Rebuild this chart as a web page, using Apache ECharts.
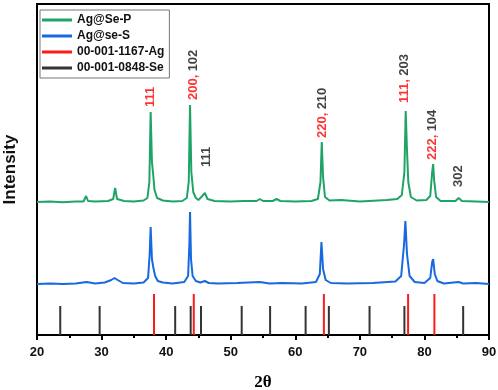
<!DOCTYPE html>
<html>
<head>
<meta charset="utf-8">
<script src="https://cdn.jsdelivr.net/npm/echarts@6/dist/echarts.min.js"></script>
<style>
  html, body { margin: 0; padding: 0; background: #fff; }
  #chart { width: 498px; height: 390px; }
</style>
</head>
<body>
<div id="chart"></div>
<script>
// Ag@Se-P trace, [2theta, intensity above its own baseline]
var greenPoints = [
  [20, 0], [22, 0.5], [24, -0.3], [26, 0.5], [27.2, 0.5], [27.6, 6], [27.9, 1], [29, 0.5],
  [31, 1], [31.8, 3], [32.1, 14], [32.4, 3], [33.5, 1], [35, 0.5], [36.5, 1.5], [37.1, 4],
  [37.4, 20], [37.6, 90], [37.8, 40], [38.0, 27], [38.2, 12], [38.6, 4], [39.5, 1.5], [41, 0.5],
  [42.5, 1], [43.2, 4], [43.5, 20], [43.7, 97], [43.9, 30], [44.2, 10], [44.6, 4], [45.0, 2],
  [45.6, 6], [46.0, 9], [46.4, 3], [47.5, 1], [50, 0.5], [52, 1], [54, 1], [54.5, 3], [55, 1],
  [56.5, 1], [57.1, 3], [57.7, 1], [60, 0.5], [62.5, 1], [63.5, 3], [63.9, 20], [64.1, 60],
  [64.3, 25], [64.6, 5], [65.3, 1.5], [67.1, 2], [70, 0.5], [74.2, 2], [75.8, 3], [76.5, 7],
  [76.9, 30], [77.1, 91], [77.3, 52], [77.5, 20], [77.9, 5], [78.8, 1.5], [80.3, 2], [80.9, 6],
  [81.2, 30], [81.35, 38], [81.5, 22], [81.8, 5], [82.5, 1], [84.8, 1], [85.3, 4], [85.8, 1],
  [88, 0.5], [90, 0]
]
// Ag@se-S trace
var bluePoints = [
  [20, 0], [22, 0.5], [24, 0], [26, 0.5], [27.7, 2], [29, 0.5], [30.5, 1.5], [31.5, 4],
  [32.0, 6], [32.5, 4], [33.3, 1], [35, 0.5], [36.5, 1.5], [37.2, 6], [37.45, 30], [37.6, 57],
  [37.8, 25], [38.0, 17], [38.3, 8], [38.7, 3], [39.5, 1.5], [41, 0.5], [42.8, 2], [43.4, 8],
  [43.6, 40], [43.7, 72], [43.85, 25], [44.1, 8], [44.6, 3], [45.3, 1.5], [46.0, 3], [46.6, 1],
  [48, 0.5], [51, 1], [54.5, 2], [56, 0.5], [58, 1], [61, 0.5], [63.2, 2], [63.8, 10],
  [64.05, 42], [64.3, 15], [64.7, 4], [65.5, 1], [68, 0.5], [72, 1], [75.5, 2.5], [76.4, 8],
  [76.85, 40], [77.05, 63], [77.3, 30], [77.7, 8], [78.5, 2], [80, 1], [80.9, 6], [81.2, 22],
  [81.35, 25], [81.6, 10], [82, 3], [83, 0.5], [85.3, 2], [86, 0.5], [88, 1], [90, 0]
]
var greenOffset = 133
var blueOffset = 51

// reference patterns
var agPeaks = [38.12, 44.28, 64.43, 77.47, 81.54]
var agHeight = 41
var sePeaks = [23.6, 29.7, 41.4, 43.8, 45.4, 51.7, 56.1, 61.6, 65.2, 71.5, 76.9, 86.0]
var seHeight = 29

// hkl notes: [2theta, intensity at text start, red part, black part]
var notes = [
  [37.6, 228, '111', ''],
  [44.15, 235, '200,', '102'],
  [46.3, 168, '', '111'],
  [64.2, 197, '220,', '210'],
  [76.95, 232, '111,', '203'],
  [81.3, 175, '222,', '104'],
  [85.2, 148, '', '302']
]

var xTicks = [20, 90, 10]
var names = ['Ag@Se-P', 'Ag@se-S', '00-001-1167-Ag', '00-001-0848-Se']

var font = 'Liberation Sans, Arial, sans-serif'

function shift(points, off) {
  return points.map(function (p) { return [p[0], p[1] + off] })
}

var chart = echarts.init(document.getElementById('chart'))
chart.setOption({
  animation: false,
  grid: {
    left: 37, right: 9, top: 4, bottom: 55,
    outerBoundsMode: 'none',
    show: true, borderColor: '#000', borderWidth: 2
  },
  legend: {
    orient: 'vertical',
    left: 40, top: 10,
    data: names,
    icon: 'rect',
    itemWidth: 30, itemHeight: 3,
    itemGap: 4,
    padding: [4, 5, 4, 2],
    borderColor: '#777', borderWidth: 1,
    textStyle: { fontFamily: font, fontWeight: 'bold', fontSize: 12, color: '#111' }
  },
  xAxis: {
    type: 'value',
    min: xTicks[0], max: xTicks[1], interval: xTicks[2],
    name: '2θ',
    nameLocation: 'middle',
    nameGap: 39,
    nameTextStyle: { fontFamily: 'Liberation Serif, Times New Roman, serif', fontWeight: 'bold', fontSize: 17, color: '#000' },
    axisLine: { onZero: false, lineStyle: { color: '#000', width: 2 } },
    axisTick: { length: 5, lineStyle: { color: '#000', width: 2 } },
    minorTick: { show: true, splitNumber: 2, length: 3, lineStyle: { color: '#000', width: 2 } },
    splitLine: { show: false },
    axisLabel: { margin: 11, fontFamily: font, fontWeight: 'bold', fontSize: 13, color: '#111' }
  },
  yAxis: {
    type: 'value',
    min: 0, max: 331,
    name: 'Intensity',
    nameLocation: 'middle',
    nameGap: 18,
    nameTextStyle: { fontFamily: font, fontWeight: 'bold', fontSize: 17, color: '#111' },
    axisLine: { show: true, lineStyle: { color: '#000', width: 2 } },
    axisTick: { show: false },
    axisLabel: { show: false },
    splitLine: { show: false }
  },
  series: [
    {
      name: names[0], type: 'line', data: shift(greenPoints, greenOffset),
      showSymbol: false, symbol: 'none',
      lineStyle: { color: '#1fa467', width: 2 }, itemStyle: { color: '#1fa467' }
    },
    {
      name: names[1], type: 'line', data: shift(bluePoints, blueOffset),
      showSymbol: false, symbol: 'none',
      lineStyle: { color: '#1769e0', width: 2 }, itemStyle: { color: '#1769e0' }
    },
    {
      name: names[2], type: 'bar', barWidth: 2, barGap: '-100%',
      data: agPeaks.map(function (x) { return [x, agHeight] }),
      itemStyle: { color: '#ff1a1a' }
    },
    {
      name: names[3], type: 'bar', barWidth: 2, barGap: '-100%',
      data: sePeaks.map(function (x) { return [x, seHeight] }),
      itemStyle: { color: '#333' }
    },
    {
      type: 'scatter', symbolSize: 0, silent: true,
      data: notes.map(function (n) {
        var txt = (n[2] ? '{r|' + n[2] + '}' : '') + (n[2] && n[3] ? ' ' : '') + (n[3] ? '{k|' + n[3] + '}' : '')
        return { value: [n[0], n[1]], label: { formatter: txt } }
      }),
      label: {
        show: true, position: 'inside', rotate: 90,
        align: 'left', verticalAlign: 'middle',
        rich: {
          r: { color: '#ff0000', fontFamily: font, fontWeight: 'bold', fontSize: 13 },
          k: { color: '#111', fontFamily: font, fontWeight: 'bold', fontSize: 13 }
        }
      }
    }
  ]
})
</script>
</body>
</html>
